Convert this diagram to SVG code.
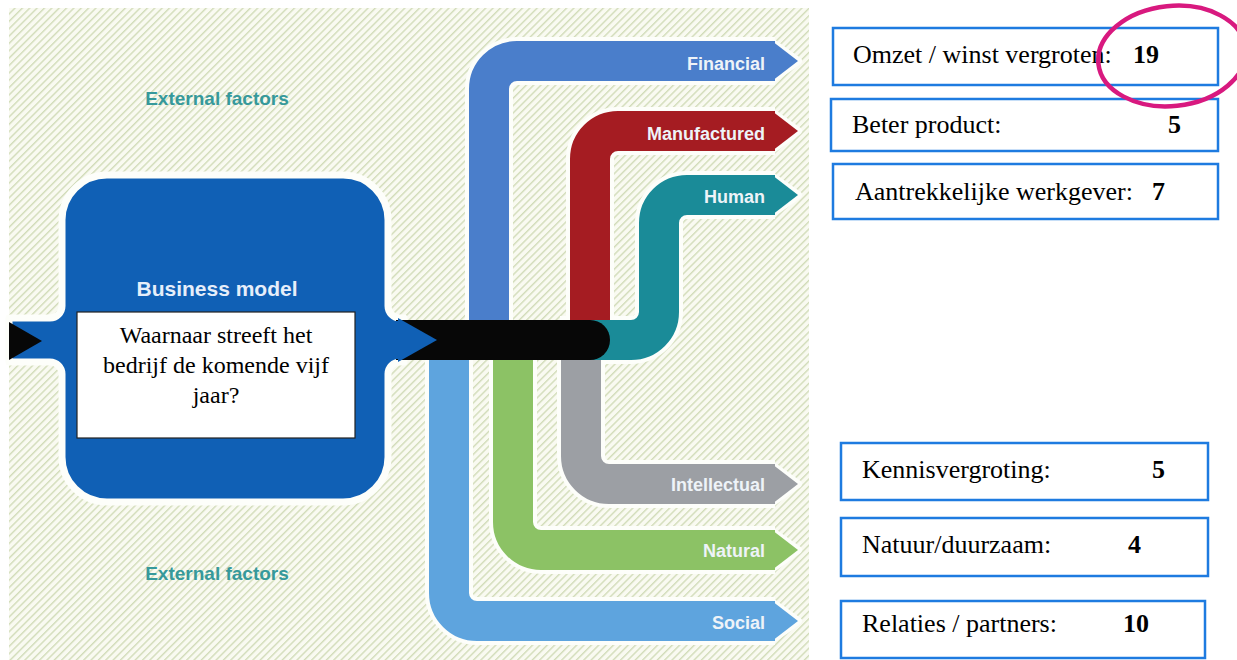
<svg xmlns="http://www.w3.org/2000/svg" width="1237" height="660" viewBox="0 0 1237 660">
<defs>
<pattern id="hatch" patternUnits="userSpaceOnUse" width="5.2" height="5.2" patternTransform="rotate(45)">
<rect width="5.2" height="5.2" fill="#f9faf1"/>
<rect x="0" y="0" width="1.4" height="5.2" fill="#d2dcb9"/>
</pattern>
<style>
.wo{fill:none;stroke:#fdfefa;stroke-width:48}
.fl{fill:none;stroke-width:40}
.lbl{font-family:"Liberation Sans",Arial,sans-serif;font-weight:bold;font-size:18px;fill:#eef3f8;text-anchor:end}
.ext{font-family:"Liberation Sans",Arial,sans-serif;font-weight:bold;font-size:19px;fill:#36999b;text-anchor:middle}
.box{fill:#fff;stroke:#1e7be0;stroke-width:2.5}
.bt{font-family:"Liberation Serif","Times New Roman",serif;font-size:26px;fill:#000}
.bn{font-family:"Liberation Serif","Times New Roman",serif;font-size:26px;font-weight:bold;fill:#000}
.q{font-family:"Liberation Serif","Times New Roman",serif;font-size:24px;fill:#000;text-anchor:middle}
</style>
</defs>
<rect width="1237" height="660" fill="#fff"/>
<rect x="9" y="8" width="800" height="652" fill="url(#hatch)"/>

<text class="ext" x="217" y="105">External factors</text>
<text class="ext" x="217" y="580">External factors</text>

<g id="business-model">
<path fill="#1060b5" stroke="#fdfefa" stroke-width="7" stroke-linejoin="round" d="M9,318 H50 A12 12 0 0 0 62 306 V220 A45 45 0 0 1 107 175 H343 A45 45 0 0 1 388 220 V306 A12 12 0 0 0 400 318 H404 V362 H400 A12 12 0 0 0 388 374 V457 A45 45 0 0 1 343 502 H107 A45 45 0 0 1 62 457 V374 A12 12 0 0 0 50 362 H9 Z"/>
<text x="217" y="296" font-family="'Liberation Sans',Arial,sans-serif" font-weight="bold" font-size="21" fill="#e6eefa" text-anchor="middle">Business model</text>
</g>

<g id="connectors">
<path class="wo" d="M489,345 V89 A28 28 0 0 1 517 61 H775"/>
<path class="wo" d="M590,345 V159 A28 28 0 0 1 618 131 H775"/>
<path class="wo" d="M560,340 H631 A28 28 0 0 0 659 312 V223 A28 28 0 0 1 687 195 H775"/>
<path class="wo" d="M581,335 V456 A28 28 0 0 0 609 484 H775"/>
<path class="wo" d="M513,335 V522 A28 28 0 0 0 541 550 H775"/>
<path class="wo" d="M449,335 V593 A28 28 0 0 0 477 621 H775"/>
<g fill="#fdfefa" stroke="#fdfefa" stroke-width="8" stroke-linejoin="round">
<polygon points="770,41 798,61 770,81"/>
<polygon points="770,111 798,131 770,151"/>
<polygon points="770,175 798,195 770,215"/>
<polygon points="770,464 798,484 770,504"/>
<polygon points="770,530 798,550 770,570"/>
<polygon points="770,601 798,621 770,641"/>
</g>
<g id="financial">
<path class="fl" stroke="#4a7ecb" d="M489,345 V89 A28 28 0 0 1 517 61 H775"/>
<polygon fill="#4a7ecb" points="772,41 798,61 772,81"/>
</g>
<g id="manufactured">
<path class="fl" stroke="#a51c22" d="M590,345 V159 A28 28 0 0 1 618 131 H775"/>
<polygon fill="#a51c22" points="772,111 798,131 772,151"/>
</g>
<g id="intellectual">
<path class="fl" stroke="#9c9fa4" d="M581,335 V456 A28 28 0 0 0 609 484 H775"/>
<polygon fill="#9c9fa4" points="772,464 798,484 772,504"/>
</g>
<g id="natural">
<path class="fl" stroke="#8cc265" d="M513,335 V522 A28 28 0 0 0 541 550 H775"/>
<polygon fill="#8cc265" points="772,530 798,550 772,570"/>
</g>
<g id="social">
<path class="fl" stroke="#5ea4de" d="M449,335 V593 A28 28 0 0 0 477 621 H775"/>
<polygon fill="#5ea4de" points="772,601 798,621 772,641"/>
</g>
<g id="human">
<path class="fl" stroke="#1a8b98" d="M560,340 H631 A28 28 0 0 0 659 312 V223 A28 28 0 0 1 687 195 H775"/>
<polygon fill="#1a8b98" points="772,175 798,195 772,215"/>
</g>
<path fill="#070707" d="M396,320 H590 A20 20 0 0 1 590 360 H396 Z"/>
<rect x="384" y="321" width="16" height="38" fill="#1060b5"/>
<polygon fill="#1060b5" points="398,318 437,340 398,362"/>
<polygon fill="#070707" points="9,322 42,341 9,360"/>
</g>

<g id="question">
<rect x="77" y="312" width="278" height="126" fill="#fff" stroke="#222" stroke-width="1.2"/>
<text class="q" x="216" y="343">Waarnaar streeft het</text>
<text class="q" x="216" y="373">bedrijf de komende vijf</text>
<text class="q" x="216" y="403">jaar?</text>
</g>

<g id="flow-labels">
<text class="lbl" x="765" y="70">Financial</text>
<text class="lbl" x="765" y="140">Manufactured</text>
<text class="lbl" x="765" y="203">Human</text>
<text class="lbl" x="765" y="491">Intellectual</text>
<text class="lbl" x="765" y="557">Natural</text>
<text class="lbl" x="765" y="629">Social</text>
</g>

<g id="box-omzet">
<rect class="box" x="833" y="28" width="385" height="57"/>
<text class="bt" x="853" y="63">Omzet / winst vergroten:</text>
<text class="bn" x="1133" y="63">19</text>
</g>
<g id="box-product">
<rect class="box" x="831" y="99" width="387" height="52"/>
<text class="bt" x="852" y="133">Beter product:</text>
<text class="bn" x="1168" y="133">5</text>
</g>
<g id="box-werkgever">
<rect class="box" x="833" y="164" width="385" height="55"/>
<text class="bt" x="855" y="200">Aantrekkelijke werkgever:</text>
<text class="bn" x="1152" y="200">7</text>
</g>
<g id="box-kennis">
<rect class="box" x="841" y="443" width="367" height="57"/>
<text class="bt" x="862" y="478">Kennisvergroting:</text>
<text class="bn" x="1152" y="478">5</text>
</g>
<g id="box-natuur">
<rect class="box" x="841" y="518" width="367" height="58"/>
<text class="bt" x="862" y="553">Natuur/duurzaam:</text>
<text class="bn" x="1128" y="553">4</text>
</g>
<g id="box-relaties">
<rect class="box" x="841" y="601" width="364" height="57"/>
<text class="bt" x="862" y="632">Relaties / partners:</text>
<text class="bn" x="1123" y="632">10</text>
</g>

<ellipse id="highlight" cx="1172" cy="56" rx="74" ry="50" fill="none" stroke="#d8197f" stroke-width="4.5" transform="rotate(-6 1172 56)"/>
</svg>
